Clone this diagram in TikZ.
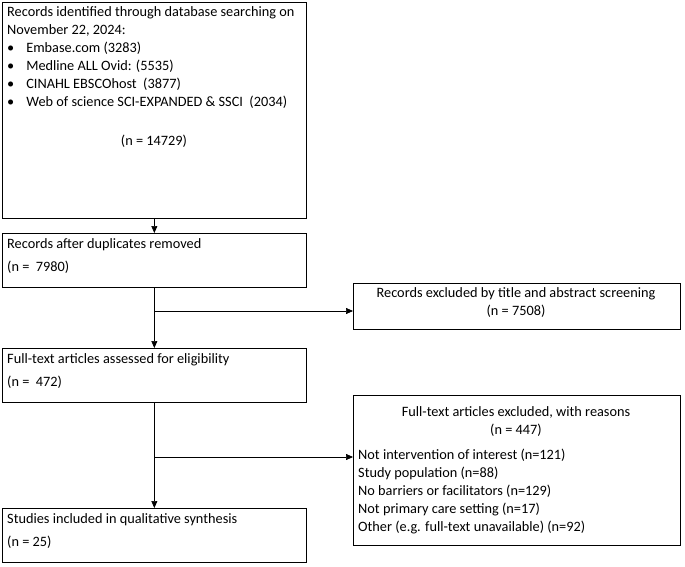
\documentclass[tikz,border=0pt]{standalone}
\usepackage{fontspec}
\setmainfont{Carlito}
\usetikzlibrary{arrows.meta}
\begin{document}
\begin{tikzpicture}[x=1pt,y=-1pt,
  box/.style={draw,line width=0.7pt,inner sep=0pt},
  txt/.style={anchor=north west,align=left,font=\fontsize{14.3}{18}\selectfont,inner sep=0pt},
  wide/.style={font=\fontsize{14.3}{23}\selectfont},
  arr/.style={-{Triangle[length=7pt,width=6pt]},line width=0.7pt}]
\useasboundingbox (0,0) rectangle (685,566);
\node[box,minimum width=304pt,minimum height=216pt,anchor=north west] (b1) at (2,2) {};
\node[txt] at (7,6) {Records identified through database searching on\\November 22, 2024:\\
\textbullet\hspace{12pt}Embase.com (3283)\\
\textbullet\hspace{12pt}Medline ALL Ovid: (5535)\\
\textbullet\hspace{12pt}CINAHL EBSCOhost\ \ (3877)\\
\textbullet\hspace{12pt}Web of science SCI-EXPANDED \& SSCI\ \ (2034)};
\node[txt,anchor=north] at (154,135) {(n = 14729)};
\node[box,minimum width=304pt,minimum height=54pt,anchor=north west] (b2) at (2,233) {};
\node[txt,wide] at (7,238) {Records after duplicates removed\\(n =\ \ 7980)};
\node[box,minimum width=327pt,minimum height=46pt,anchor=north west] (e1) at (353,283) {};
\node[txt,align=center,anchor=north] at (516,287) {Records excluded by title and abstract screening\\(n = 7508)};
\node[box,minimum width=304pt,minimum height=54pt,anchor=north west] (b3) at (2,348) {};
\node[txt,wide] at (7,353) {Full-text articles assessed for eligibility\\(n =\ \ 472)};
\node[box,minimum width=327pt,minimum height=150pt,anchor=north west] (e2) at (353,395) {};
\node[txt,align=center,anchor=north] at (516,406) {Full-text articles excluded, with reasons\\(n = 447)};
\node[txt] at (358,449) {Not intervention of interest (n=121)\\Study population (n=88)\\No barriers or facilitators (n=129)\\Not primary care setting (n=17)\\Other (e.g. full-text unavailable) (n=92)};
\node[box,minimum width=304pt,minimum height=54pt,anchor=north west] (b4) at (2,508) {};
\node[txt,wide] at (7,513) {Studies included in qualitative synthesis\\(n = 25)};
\draw[arr] (b1.south) -- (b2.north);
\draw[arr] (b2.south) -- (b3.north);
\draw[arr] (b3.south) -- (b4.north);
\coordinate (j1) at (154,311);
\coordinate (j2) at (154,457);
\draw[arr] (j1) -- (j1 -| e1.west);
\draw[arr] (j2) -- (j2 -| e2.west);
\end{tikzpicture}
\end{document}
